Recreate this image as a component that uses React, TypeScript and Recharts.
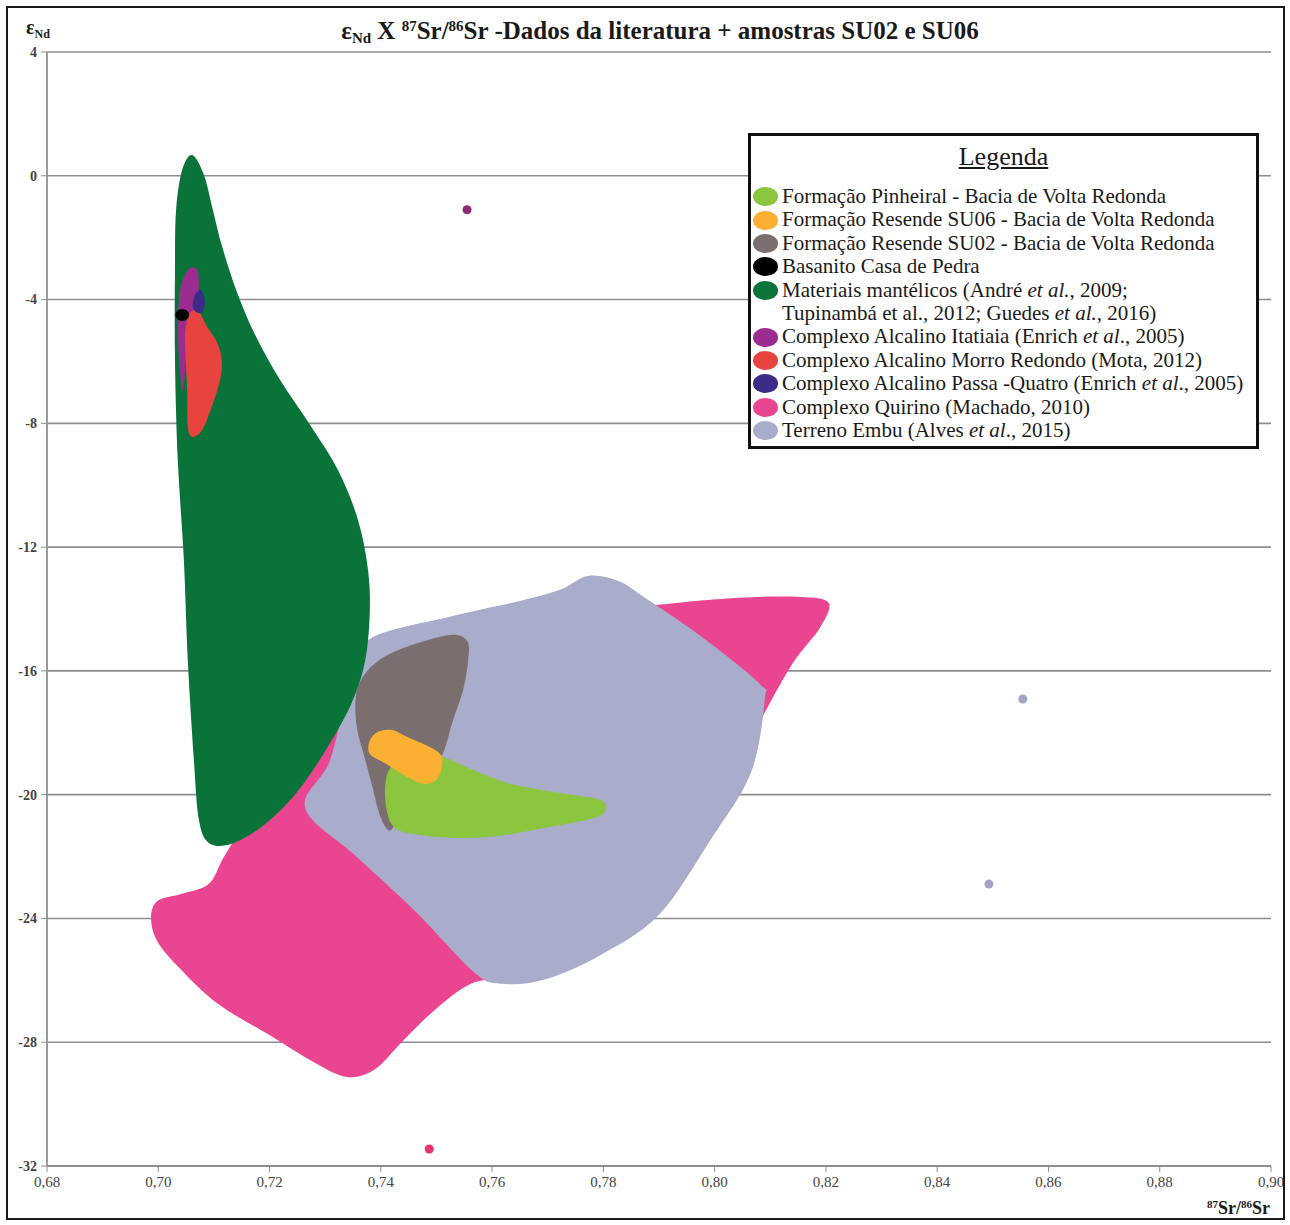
import React from 'react';
import { ScatterChart, Scatter, XAxis, YAxis, CartesianGrid } from 'recharts';

type Pair = [number, number];

// ---- axis ticks ----
const xTicks = [0.68, 0.7, 0.72, 0.74, 0.76, 0.78, 0.8, 0.82, 0.84, 0.86, 0.88, 0.9];
const yTicks = [-32, -28, -24, -20, -16, -12, -8, -4, 0, 4];

// ---- field outlines (87Sr/86Sr, eNd) ----
const quirinoOutline: Pair[] = [
  [0.8205, -13.8], [0.8189, -14.61], [0.8141, -15.74], [0.8081, -17.65], [0.8009, -20.17], [0.783, -23.4],
  [0.765, -25.66], [0.7562, -26.11], [0.7495, -26.99], [0.7438, -27.99], [0.7388, -28.89], [0.7339, -29.12],
  [0.7282, -28.67], [0.7199, -27.76], [0.7107, -26.76], [0.7041, -25.66], [0.6999, -24.76], [0.6987, -23.98],
  [0.6999, -23.43], [0.7041, -23.21], [0.7091, -22.88], [0.712, -21.95], [0.7183, -20.17], [0.7309, -16.94],
  [0.7524, -14.68], [0.7884, -13.9], [0.8045, -13.64], [0.8153, -13.61],
];
const embuOutline: Pair[] = [
  [0.738, -14.97], [0.7524, -14.25], [0.765, -13.74], [0.7722, -13.38], [0.7772, -12.93], [0.7826, -13.09],
  [0.7875, -13.64], [0.7982, -14.97], [0.8081, -16.42], [0.809, -16.94], [0.8065, -19.3], [0.799, -21.53],
  [0.79, -23.88], [0.7792, -25.21], [0.7693, -25.98], [0.7619, -26.11], [0.7569, -25.76], [0.7461, -23.75],
  [0.7355, -21.98], [0.7264, -20.43], [0.7309, -18.88], [0.7345, -16.29],
];
const mantleOutline: Pair[] = [
  [0.7061, 0.67], [0.7082, 0.03], [0.7098, -1.1], [0.7114, -2.24], [0.714, -3.69], [0.7174, -5.14],
  [0.7219, -6.6], [0.7273, -8.05], [0.7323, -9.51], [0.7359, -11.12], [0.7377, -12.74], [0.738, -14.19],
  [0.7371, -15.74], [0.7346, -17.1], [0.7298, -18.65], [0.7247, -19.97], [0.719, -20.98], [0.7132, -21.59],
  [0.7091, -21.56], [0.7073, -20.81], [0.7064, -18.88], [0.7053, -15.64], [0.7046, -12.41], [0.7035, -9.18],
  [0.703, -5.95], [0.703, -3.04], [0.7032, -1.1], [0.7043, 0.19],
];
const su02Outline: Pair[] = [
  [0.7524, -14.84], [0.7555, -15.03], [0.7557, -15.64], [0.7548, -16.61], [0.753, -17.58], [0.7506, -18.88],
  [0.7452, -20.17], [0.7425, -20.98], [0.7413, -21.14], [0.7398, -20.65], [0.7384, -19.68], [0.7371, -18.81],
  [0.7357, -17.84], [0.7355, -16.84], [0.7368, -16.19], [0.7398, -15.64], [0.7447, -15.22],
];
const pinheiralOutline: Pair[] = [
  [0.7512, -18.78], [0.7569, -19.23], [0.7627, -19.62], [0.7686, -19.84], [0.7745, -20.01], [0.779, -20.14],
  [0.7805, -20.36], [0.7794, -20.68], [0.7745, -20.91], [0.7686, -21.1], [0.7614, -21.33], [0.7544, -21.4],
  [0.747, -21.3], [0.7425, -21.07], [0.7409, -20.33], [0.7411, -19.36], [0.7434, -18.88], [0.747, -18.71],
];
const su06Outline: Pair[] = [
  [0.738, -18.26], [0.7395, -17.97], [0.742, -17.91], [0.7443, -18.1], [0.7503, -18.62], [0.751, -19.04],
  [0.7501, -19.49], [0.7478, -19.65], [0.7447, -19.42], [0.7406, -18.97], [0.738, -18.68],
];
const itatiaiaOutline: Pair[] = [
  [0.7048, -3.21], [0.7057, -2.98], [0.707, -3.04], [0.7073, -3.53], [0.707, -4.17], [0.7057, -4.82],
  [0.705, -5.95], [0.7044, -6.92], [0.7039, -6.34], [0.7035, -4.98], [0.7037, -4.01], [0.7041, -3.53],
];
const morroOutline: Pair[] = [
  [0.7057, -4.43], [0.7071, -4.34], [0.7088, -4.89], [0.7106, -5.4], [0.7114, -5.95], [0.7111, -6.6],
  [0.7096, -7.47], [0.7079, -8.21], [0.7062, -8.44], [0.7053, -8.12], [0.7052, -6.92], [0.7048, -5.31],
  [0.7052, -4.66],
];
const passaOutline: Pair[] = [
  [0.7075, -3.69], [0.708, -3.79], [0.7084, -4.11], [0.7079, -4.4], [0.707, -4.43], [0.7062, -4.24], [0.7066, -3.85],
];
const basanitoPoint: Pair[] = [[0.7043, -4.5]];

// ---- isolated samples ----
const itatiaiaDots: Pair[] = [[0.7555, -1.1]];
const embuDots: Pair[] = [[0.8554, -16.91], [0.8493, -22.89]];
const quirinoDots: Pair[] = [[0.7487, -31.45]];

// ---- legend ----
const legendNames = [
  'Formação Pinheiral - Bacia de Volta Redonda',
  'Formação Resende SU06 - Bacia de Volta Redonda',
  'Formação Resende SU02 - Bacia de Volta Redonda',
  'Basanito Casa de Pedra',
  'Materiais mantélicos (André *et al.*, 2009;|Tupinambá et al., 2012; Guedes *et al.*, 2016)',
  'Complexo Alcalino Itatiaia (Enrich *et al*., 2005)',
  'Complexo Alcalino Morro Redondo (Mota, 2012)',
  'Complexo Alcalino Passa -Quatro (Enrich *et al*., 2005)',
  'Complexo Quirino (Machado, 2010)',
  'Terreno Embu (Alves *et al*., 2015)',
];
const legendColors = [
  '#8cc63f', '#fbb034', '#7a6f6e', '#000000', '#0a733a', '#9b2d91', '#e8443f', '#3a2c88', '#ea4590', '#a9acca',
];

const toPts = (a: Pair[]) => a.map(([x, y]) => ({ x, y }));

function closedPath(pts: { x: number; y: number }[]) {
  const n = pts.length;
  if (!n) return '';
  let d = `M${pts[0].x},${pts[0].y}`;
  for (let i = 0; i < n; i++) {
    const p0 = pts[(i - 1 + n) % n];
    const p1 = pts[i];
    const p2 = pts[(i + 1) % n];
    const p3 = pts[(i + 2) % n];
    const c1x = p1.x + (p2.x - p0.x) / 6;
    const c1y = p1.y + (p2.y - p0.y) / 6;
    const c2x = p2.x - (p3.x - p1.x) / 6;
    const c2y = p2.y - (p3.y - p1.y) / 6;
    d += `C${c1x},${c1y},${c2x},${c2y},${p2.x},${p2.y}`;
  }
  return d + 'Z';
}

const NoDot = () => null;

const fieldLine = (color: string) => (p: any) => (
  <path d={closedPath(p.points || [])} fill={color} stroke="none" />
);

const BlackEllipse = (p: any) => <ellipse cx={p.cx} cy={p.cy} rx={7} ry={6} fill="#000" />;

const serif = '"Liberation Serif", "Times New Roman", serif';

const XTick = (p: any) => (
  <text x={p.x} y={p.y} dy="0.8em" textAnchor="middle" fill="#444" fontSize={15} fontFamily={serif}>
    {Number(p.payload.value).toFixed(2).replace('.', ',')}
  </text>
);
const YTick = (p: any) => (
  <text x={p.x} y={p.y} dy="0.35em" textAnchor="end" fill="#444" fontSize={14} fontWeight="bold" fontFamily={serif}>
    {String(p.payload.value)}
  </text>
);

function renderLabel(text: string) {
  return text.split('*').map((seg, i) =>
    i % 2 === 1 ? <i key={i}>{seg}</i> : <span key={i}>{seg}</span>
  );
}

function LegendBox() {
  const rows: { color: string | null; text: string }[] = [];
  legendNames.forEach((name, i) => {
    name.split('|').forEach((line, j) => rows.push({ color: j === 0 ? legendColors[i] : null, text: line }));
  });
  return (
    <div
      style={{
        position: 'absolute', left: 748, top: 133, width: 511, height: 316, boxSizing: 'border-box',
        border: '3px solid #111', background: '#fff', fontFamily: serif, color: '#1a1a1a',
      }}
    >
      <div style={{ position: 'absolute', left: 0, right: 0, top: 6, textAlign: 'center', fontSize: 26, lineHeight: '30px', textDecoration: 'underline' }}>
        Legenda
      </div>
      <div style={{ position: 'absolute', left: 0, top: 49 }}>
        {rows.map((r, k) => (
          <div key={k} style={{ display: 'flex', alignItems: 'center', height: 23.4, fontSize: 21, lineHeight: '23.4px', whiteSpace: 'nowrap' }}>
            <span style={{ display: 'inline-block', width: 25, height: 19, borderRadius: '50%', marginLeft: 1.5, marginRight: 4.5, background: r.color || 'transparent' }} />
            <span>{renderLabel(r.text)}</span>
          </div>
        ))}
      </div>
    </div>
  );
}

export default function App() {
  return (
    <div style={{ position: 'absolute', left: 0, top: 0, width: 1290, height: 1225, background: '#fff', fontFamily: serif }}>
      <ScatterChart width={1290} height={1225} margin={{ top: 52, right: 19, bottom: 0, left: 0 }}>
        <CartesianGrid vertical={false} stroke="#8e8e8e" strokeWidth={1.6} />
        <XAxis
          type="number" dataKey="x" domain={[0.68, 0.9]} ticks={xTicks} height={59} interval={0}
          tick={XTick}
          axisLine={{ stroke: '#8e8e8e', strokeWidth: 2 }} tickLine={{ stroke: '#8e8e8e' }} tickSize={6} tickMargin={3}
        />
        <YAxis
          type="number" dataKey="y" domain={[-32, 4]} ticks={yTicks} width={47} interval={0}
          tick={YTick}
          axisLine={{ stroke: '#9a9a9a', strokeWidth: 2 }} tickLine={{ stroke: '#8e8e8e' }} tickSize={6} tickMargin={4}
        />
        <Scatter data={toPts(quirinoOutline)} fill="#ea4590" shape={NoDot} line={fieldLine('#ea4590')} isAnimationActive={false} />
        <Scatter data={toPts(embuOutline)} fill="#a9acca" shape={NoDot} line={fieldLine('#a9acca')} isAnimationActive={false} />
        <Scatter data={toPts(mantleOutline)} fill="#0a733a" shape={NoDot} line={fieldLine('#0a733a')} isAnimationActive={false} />
        <Scatter data={toPts(su02Outline)} fill="#7a6f6e" shape={NoDot} line={fieldLine('#7a6f6e')} isAnimationActive={false} />
        <Scatter data={toPts(pinheiralOutline)} fill="#8cc63f" shape={NoDot} line={fieldLine('#8cc63f')} isAnimationActive={false} />
        <Scatter data={toPts(su06Outline)} fill="#fbb034" shape={NoDot} line={fieldLine('#fbb034')} isAnimationActive={false} />
        <Scatter data={toPts(itatiaiaOutline)} fill="#9b2d91" shape={NoDot} line={fieldLine('#9b2d91')} isAnimationActive={false} />
        <Scatter data={toPts(morroOutline)} fill="#e8443f" shape={NoDot} line={fieldLine('#e8443f')} isAnimationActive={false} />
        <Scatter data={toPts(passaOutline)} fill="#3a2c88" shape={NoDot} line={fieldLine('#3a2c88')} isAnimationActive={false} />
        <Scatter data={toPts(basanitoPoint)} fill="#000" shape={BlackEllipse} isAnimationActive={false} />
        <Scatter data={toPts(itatiaiaDots)} fill="#8e2a70" shape="circle" isAnimationActive={false} />
        <Scatter data={toPts(embuDots)} fill="#a2a5c4" shape="circle" isAnimationActive={false} />
        <Scatter data={toPts(quirinoDots)} fill="#e8336f" shape="circle" isAnimationActive={false} />
      </ScatterChart>

      {/* title */}
      <div style={{ position: 'absolute', left: 0, width: 1320, top: 17, textAlign: 'center', fontWeight: 'bold', fontSize: 25, color: '#1a1a1a', whiteSpace: 'nowrap' }}>
        ε<span style={{ fontSize: 15, position: 'relative', top: 4 }}>Nd</span> X <sup style={{ fontSize: 15, verticalAlign: 0, position: 'relative', top: -8 }}>87</sup>Sr/<sup style={{ fontSize: 15, verticalAlign: 0, position: 'relative', top: -8 }}>86</sup>Sr -Dados da literatura + amostras SU02 e SU06
      </div>

      {/* y axis title */}
      <div style={{ position: 'absolute', left: 26, top: 16, fontWeight: 'bold', fontSize: 20, color: '#1a1a1a', whiteSpace: 'nowrap' }}>
        ε<span style={{ fontSize: 12, position: 'relative', top: 4 }}>Nd</span>
      </div>

      {/* x axis title */}
      <div style={{ position: 'absolute', right: 20, top: 1198, fontWeight: 'bold', fontSize: 18, color: '#1a1a1a', whiteSpace: 'nowrap' }}>
        <sup style={{ fontSize: 11, verticalAlign: 0, position: 'relative', top: -6 }}>87</sup>Sr/<sup style={{ fontSize: 11, verticalAlign: 0, position: 'relative', top: -6 }}>86</sup>Sr
      </div>

      <LegendBox />

      {/* outer frame */}
      <div style={{ position: 'absolute', left: 6, top: 6, width: 1279, height: 1214, boxSizing: 'border-box', border: '2px solid #1a1a1a', pointerEvents: 'none' }} />
    </div>
  );
}
